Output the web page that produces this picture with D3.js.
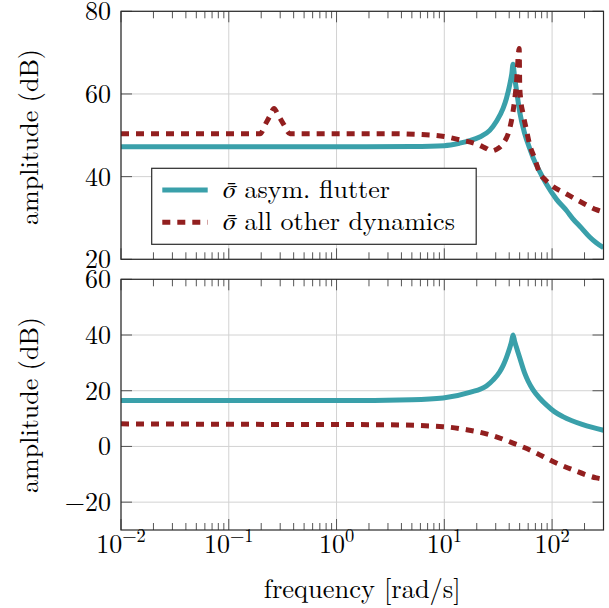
<!DOCTYPE html>
<html>
<head>
<meta charset="utf-8">
<script src="https://cdn.jsdelivr.net/npm/d3@7"></script>
<style>
  body { margin: 0; background: #fff; }
</style>
</head>
<body>
<svg id="chart" width="609" height="608"></svg>
<script>
// values (frequency in rad/s, amplitude in dB)
const flutterTopFreq = [0.01, 1, 5, 10, 13.9, 17.2, 21.3, 26.4, 30.5, 35.1, 37.7, 40.5, 42.3, 43.4, 44.8, 46.7, 50.1, 55.7, 62, 66.6, 76.8, 88.5, 110, 136, 156, 187, 223, 257, 300];
const flutterTopAmp  = [47.2, 47.2, 47.3, 47.5, 48.1, 48.7, 49.6, 51.2, 53.4, 56.5, 58.9, 62.3, 64.9, 67.2, 64.3, 61.0, 55.6, 50.4, 46.8, 44.6, 41.2, 38.2, 34.5, 31.8, 29.8, 27.6, 25.4, 24.0, 22.8];

const otherTopFreq = [0.01, 0.17, 0.195, 0.222, 0.242, 0.263, 0.286, 0.324, 0.37, 1, 3, 5.93, 10, 13.9, 19.9, 24.5, 27.4, 30.5, 35.1, 40.5, 43.4, 46.7, 49.5, 50.1, 51, 53.7, 57.8, 62, 69, 76.8, 85.9, 98.4, 136, 187, 257, 300];
const otherTopAmp  = [50.4, 50.4, 50.4, 53.0, 54.8, 56.5, 55.0, 52.6, 50.4, 50.4, 50.4, 50.2, 49.7, 48.9, 47.9, 46.8, 46.2, 46.6, 48.0, 51.7, 55.7, 62.6, 71.0, 62.0, 59.0, 55.3, 51.3, 47.7, 44.4, 40.8, 39.3, 37.9, 35.8, 33.8, 32.0, 31.4];

const flutterBotFreq = [0.01, 1, 5, 9.75, 17.2, 24.6, 28.3, 32.7, 35.1, 37.7, 40.5, 42, 43.4, 45, 46.7, 50.1, 55.7, 60, 66.6, 76.8, 88.5, 105, 126, 193, 300];
const flutterBotAmp  = [16.5, 16.5, 16.8, 17.4, 19.4, 21.7, 23.8, 26.8, 29.0, 31.9, 35.4, 37.5, 40.0, 37.6, 35.6, 31.8, 26.3, 23.4, 20.3, 17.3, 14.9, 12.5, 10.7, 7.8, 5.8];

const otherBotFreq = [0.01, 0.3, 2.52, 9.75, 16.1, 26.4, 43.4, 66.6, 102, 156, 257, 300];
const otherBotAmp  = [8.1, 7.9, 7.8, 7.1, 6.0, 4.2, 1.2, -1.8, -5.4, -8.4, -11.3, -11.8];

const xTickExps = [-2, -1, 0, 1, 2];
const yTicksTop = [20, 40, 60, 80];
const yTicksBottom = [-20, 0, 20, 40, 60];
const legendLabels = ["asym. flutter", "all other dynamics"];

const cyan = "#3aa0aa", red = "#921f1f";
const font = "'Latin Modern Roman', 'Liberation Serif', serif";

const svg = d3.select("#chart");
const left = 121, right = 603.5;

const x = d3.scaleLog().domain([0.01, 300]).range([left, right]);

// minor tick values 2..9 per decade
const minorTicks = [];
xTickExps.forEach(e => {
  for (let k = 2; k <= 9; k++) {
    const v = k * Math.pow(10, e);
    if (v < 300) minorTicks.push(v);
  }
});

const zip = (f, a) => f.map((d, i) => [d, a[i]]);

const panels = [
  { top: 11.3, bottom: 259.3, domain: [20, 80], ticks: yTicksTop,
    flutter: zip(flutterTopFreq, flutterTopAmp), other: zip(otherTopFreq, otherTopAmp),
    labelY: 137, xLabels: false, legend: true },
  { top: 279.3, bottom: 530, domain: [-30, 60], ticks: yTicksBottom,
    flutter: zip(flutterBotFreq, flutterBotAmp), other: zip(otherBotFreq, otherBotAmp),
    labelY: 405, xLabels: true, legend: false }
];

panels.forEach((p, pi) => {
  const y = d3.scaleLinear().domain(p.domain).range([p.bottom, p.top]);
  const g = svg.append("g");

  // grid
  g.selectAll(".vgrid").data(xTickExps.map(e => Math.pow(10, e)))
    .enter().append("line")
    .attr("x1", d => x(d)).attr("x2", d => x(d))
    .attr("y1", p.top).attr("y2", p.bottom)
    .attr("stroke", "#d2d2d2").attr("stroke-width", 1);
  g.selectAll(".hgrid").data(p.ticks)
    .enter().append("line")
    .attr("x1", left).attr("x2", right)
    .attr("y1", d => y(d)).attr("y2", d => y(d))
    .attr("stroke", "#d2d2d2").attr("stroke-width", 1);

  // ticks (inward, on all sides)
  const tick = (x1, y1, x2, y2) => g.append("line")
    .attr("x1", x1).attr("y1", y1).attr("x2", x2).attr("y2", y2)
    .attr("stroke", "#555").attr("stroke-width", 1);
  xTickExps.forEach(e => {
    const xv = x(Math.pow(10, e));
    tick(xv, p.bottom, xv, p.bottom - 11);
    tick(xv, p.top, xv, p.top + 11);
  });
  minorTicks.forEach(v => {
    tick(x(v), p.bottom, x(v), p.bottom - 7);
    tick(x(v), p.top, x(v), p.top + 7);
  });
  p.ticks.forEach(v => {
    tick(left, y(v), left + 11, y(v));
    tick(right, y(v), right - 11, y(v));
  });

  // curves
  const clipId = "clip" + pi;
  svg.append("clipPath").attr("id", clipId).append("rect")
    .attr("x", left).attr("y", p.top).attr("width", right - left).attr("height", p.bottom - p.top);
  const line = d3.line().x(d => x(d[0])).y(d => y(d[1])).curve(d3.curveMonotoneX);
  const curves = g.append("g").attr("clip-path", "url(#" + clipId + ")");
  curves.append("path").attr("d", line(p.flutter))
    .attr("fill", "none").attr("stroke", cyan).attr("stroke-width", 5);
  curves.append("path").attr("d", line(p.other))
    .attr("fill", "none").attr("stroke", red).attr("stroke-width", 5)
    .attr("stroke-dasharray", "8,7");

  // frame
  g.append("rect").attr("x", left).attr("y", p.top)
    .attr("width", right - left).attr("height", p.bottom - p.top)
    .attr("fill", "none").attr("stroke", "#2a2a2a").attr("stroke-width", 1.2);

  // y tick labels
  g.selectAll(".ylab").data(p.ticks).enter().append("text")
    .attr("x", 111).attr("y", d => y(d) + 9)
    .attr("text-anchor", "end").attr("font-size", 26).style("font-family", font)
    .text(d => d < 0 ? "\u2212" + Math.abs(d) : d);

  // y axis label
  g.append("text")
    .attr("transform", "translate(38," + p.labelY + ") rotate(-90)")
    .attr("text-anchor", "middle").attr("font-size", 26).style("font-family", font)
    .text("amplitude (dB)");

  if (p.xLabels) {
    xTickExps.forEach(e => {
      const t = g.append("text").attr("x", x(Math.pow(10, e))).attr("y", 553)
        .attr("text-anchor", "middle").attr("font-size", 26).style("font-family", font);
      t.append("tspan").text("10");
      t.append("tspan").attr("dy", -11).attr("font-size", 18.5)
        .text(e < 0 ? "\u2212" + Math.abs(e) : e);
    });
    g.append("text").attr("x", (left + right) / 2).attr("y", 598)
      .attr("text-anchor", "middle").attr("font-size", 26.5).style("font-family", font)
      .text("frequency [rad/s]");
  }

  if (p.legend) {
    const lg = g.append("g");
    lg.append("rect").attr("x", 151.7).attr("y", 168.3)
      .attr("width", 324.5).attr("height", 76)
      .attr("fill", "#fff").attr("stroke", "#2a2a2a").attr("stroke-width", 1.2);
    const rows = [
      { color: cyan, dash: null, y: 190, label: legendLabels[0] },
      { color: red, dash: "8,7", y: 222.3, label: legendLabels[1] }
    ];
    rows.forEach(r => {
      lg.append("line").attr("x1", 162.3).attr("x2", 207.7)
        .attr("y1", r.y).attr("y2", r.y)
        .attr("stroke", r.color).attr("stroke-width", 5)
        .attr("stroke-dasharray", r.dash);
      const t = lg.append("text").attr("x", 223).attr("y", r.y + 7.5)
        .attr("font-size", 26).style("font-family", font);
      t.append("tspan").style("font-family", "FreeSerif").attr("font-style", "italic").text("\u03c3\u0304");
      t.append("tspan").text(" " + r.label);
    });
  }
});
</script>
</body>
</html>
